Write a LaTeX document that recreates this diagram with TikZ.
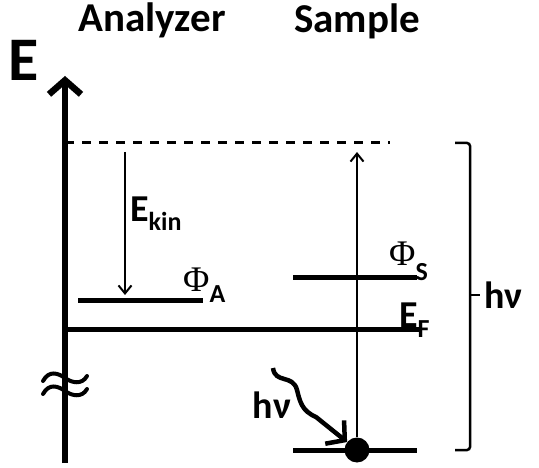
\documentclass[tikz,border=0pt]{standalone}
\usepackage{fontspec}
\setmainfont{Carlito}
\newfontfamily\phifont{Liberation Serif}
\usepackage{tikz}
\usetikzlibrary{arrows.meta}
\definecolor{mydark}{RGB}{0,0,0}
\newcommand\lvlsub[2]{\raisebox{-#1}{\fontsize{26}{26}\normalfont\selectfont\bfseries #2}}
\tikzset{
  hdr/.style={font=\fontsize{41}{41}\selectfont\bfseries, inner sep=0pt},
  axlbl/.style={font=\fontsize{62}{62}\selectfont\bfseries, inner sep=0pt},
  lbl/.style={font=\fontsize{38}{38}\selectfont\bfseries, inner sep=0pt},
  philbl/.style={font=\fontsize{36}{36}\selectfont\phifont, inner sep=0pt},
  axisline/.style={line width=6.5pt, color=mydark,
    -{Straight Barb[length=14pt, width=32pt]}},
  brk/.style={line width=4pt, color=mydark, line cap=round},
  dashline/.style={line width=3pt, color=mydark, dash pattern=on 9pt off 8pt},
  level/.style={line width=5pt, color=mydark},
  thinarrow/.style={line width=2pt, color=mydark,
    -{Straight Barb[length=8pt, width=13pt]}},
  wavy/.style={line width=4.5pt, color=mydark,
    -{Straight Barb[length=13pt, width=30pt]}},
  brack/.style={line width=2.5pt, color=mydark, rounded corners=3pt},
  dot/.style={circle, fill=mydark, minimum size=25pt, inner sep=0pt}
}

\begin{document}
\begin{tikzpicture}[x=1pt, y=-1pt]
  \useasboundingbox (0,0) rectangle (539,468);
  % Headers
  \node[hdr] (analyzer) at (152,20) {Analyzer};
  \node[hdr] (sample) at (357,21) {Sample};
  \node[axlbl] (elab) at (24,60) {E};
  % Energy axis
  \coordinate (axbot) at (65,463);
  \coordinate (axtop) at (65,76);
  \draw[axisline] (axbot) -- (axtop);
  % Axis break
  \foreach \yy in {378,391}
    \draw[brk] (43,\yy+3) .. controls (49,\yy-8) and (58,\yy-5) .. (65,\yy)
      .. controls (72,\yy+5) and (82,\yy+7) .. (87,\yy-2);
  % Vacuum level
  \coordinate (vacL) at (65,143);
  \coordinate (vacR) at (390,143);
  \draw[dashline] (vacL) -- (vacR);
  % Analyzer work function
  \coordinate (phaL) at (78,301);
  \coordinate (phaR) at (203,301);
  \draw[level] (phaL) -- (phaR);
  \node[philbl, anchor=base west] (phiA) at (183,292) {Φ\lvlsub{11pt}{A}};
  % Kinetic energy
  \coordinate (ekT) at (125,152);
  \coordinate (ekB) at (125,295);
  \draw[thinarrow] (ekT) -- (ekB);
  \node[lbl, anchor=base west] (ekin) at (130,222) {E\lvlsub{9pt}{kin}};
  % Fermi level
  \coordinate (efL) at (65,330);
  \coordinate (efR) at (420,330);
  \draw[level] (efL) -- (efR);
  \node[lbl, anchor=base west] (ef) at (399,327) {E\lvlsub{10pt}{F}};
  % Sample work function
  \coordinate (phsL) at (293,278);
  \coordinate (phsR) at (417,278);
  \draw[level] (phsL) -- (phsR);
  \node[philbl, anchor=base west] (phiS) at (389,266) {Φ\lvlsub{15pt}{S}};
  % Core level and electron
  \coordinate (coreL) at (293,450);
  \coordinate (coreR) at (417,450);
  \draw[level] (coreL) -- (coreR);
  \node[dot] (elec) at (357,450) {};
  \coordinate (vtop) at (357,152);
  \draw[thinarrow] (elec) -- (vtop);
  % Photon
  \coordinate (wavS) at (273,368);
  \draw[wavy] (wavS) .. controls (275,384) and (293,374) .. (297,390)
    .. controls (300,402) and (302,411) .. (316,417) -- (elec);
  \node[lbl] (hvL) at (272,405) {hν};
  % Photon energy bracket
  \coordinate (brT) at (455,143);
  \coordinate (brB) at (455,450);
  \coordinate (brM) at (470,295);
  \draw[brack] (brT) -- (470,143) -- (470,450) -- (brB);
  \draw[brack] (brM) -- ++(10,0) node[lbl, anchor=west, inner sep=3pt] (hvR) {hν};
\end{tikzpicture}
\end{document}
